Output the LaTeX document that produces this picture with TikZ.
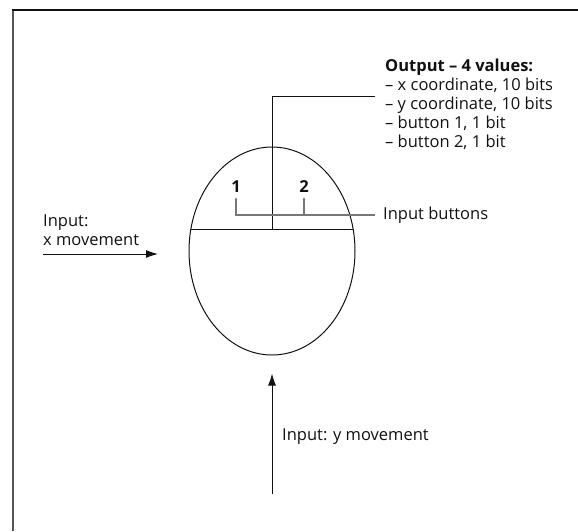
\documentclass[tikz,border=0pt]{standalone}
\usepackage{fontspec}
\setmainfont{Open Sans}
\usetikzlibrary{arrows.meta,calc,shapes.geometric}
\definecolor{ink}{HTML}{111111}
\definecolor{frame}{HTML}{555555}
\definecolor{wire}{HTML}{777777}

\begin{document}
\begin{tikzpicture}[x=1pt,y=-1pt,font=\fontsize{16.5}{19}\selectfont,text=ink,
    >={Latex[length=12pt,width=8pt]},line cap=butt,line join=miter]
  \useasboundingbox (0,0) rectangle (578,531);
  \tikzset{
    lead/.style={draw=ink,line width=1pt},
    btn/.style={draw=wire,line width=1.1pt,{Latex[length=3pt,width=3pt]}-},
    txt/.style={inner sep=0pt,align=left}
  }

  % Page edge, cropped to top and left.
  \draw[frame,line width=2pt] (13,531) -- (13,10);
  \draw[ink,line width=1.5pt] (12,10) -- (578,10);

  % The mouse body and its button split.
  \node[lead,ellipse,minimum width=166,minimum height=208,inner sep=0pt]
    (mouse) at (272,251) {};
  \coordinate (chordL) at ($(mouse.center)+(-81.1,-22)$);
  \coordinate (chordR) at ($(mouse.center)+(81.1,-22)$);
  \coordinate (split) at (mouse.center |- chordL);
  \draw[lead] (chordL) -- (chordR);

  % Output wire and its list.
  \node[txt,anchor=north west] (out) at (385,59)
    {\textbf{Output – 4 values:}\\
     – x coordinate, 10 bits\\
     – y coordinate, 10 bits\\
     – button 1, 1 bit\\
     – button 2, 1 bit};
  \coordinate (outend) at (375,96);
  \draw[lead] (split) |- (outend);

  % Buttons.
  \node[txt,font=\fontsize{16.5}{19}\selectfont\bfseries] (b1) at (236,187) {1};
  \node[txt,font=\fontsize{16.5}{19}\selectfont\bfseries] (b2) at (304,187) {2};
  \node[txt,anchor=west] (inbtn) at (383,215) {Input buttons};
  \draw[btn] ($(b1.south)+(0,4)$) |- ($(inbtn.west)+(-8,0)$);
  \draw[btn] ($(b2.south)+(0,4)$) -- (b2 |- inbtn.west);

  % x input.
  \node[txt,anchor=south west] (inx) at (43,246) {Input:\\x movement};
  \coordinate (xtail) at (43,254);
  \coordinate (xtip) at (158,254);
  \draw[lead,->] (xtail) -- (xtip);

  % y input.
  \coordinate (ytail) at (272,494);
  \coordinate (ytip) at ($(mouse.south)+(0,18)$);
  \draw[lead,->] (ytail) -- (ytip);
  \node[txt,anchor=west] (iny) at (282,437) {Input: y movement};
\end{tikzpicture}
\end{document}
